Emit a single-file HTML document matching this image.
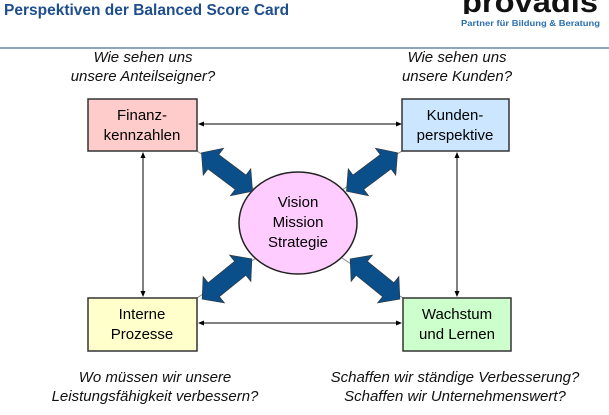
<!DOCTYPE html>
<html><head><meta charset="utf-8"><style>
body{margin:0;width:609px;height:410px;background:#fff;overflow:hidden;font-family:"Liberation Sans",sans-serif}
</style></head><body>
<svg width="609" height="410" viewBox="0 0 609 410" xmlns="http://www.w3.org/2000/svg" font-family="Liberation Sans, sans-serif">
<text x="4" y="15" font-size="15.5" font-weight="bold" fill="#1f4e8c">Perspektiven der Balanced Score Card</text>
<text x="462" y="12" font-size="30" font-weight="bold" fill="#111" textLength="136" lengthAdjust="spacingAndGlyphs">provadis</text>
<rect x="440" y="14" width="169" height="6" fill="#fff"/>
<text x="461" y="26" font-size="8.5" font-weight="bold" fill="#2a6fb0" textLength="139" lengthAdjust="spacingAndGlyphs">Partner für Bildung &amp; Beratung</text>
<line x1="0" y1="48" x2="609" y2="48" stroke="#6a86a8" stroke-width="1.5"/>
<g font-size="15" font-style="italic" fill="#111" text-anchor="middle">
<text x="143" y="62">Wie sehen uns</text><text x="143" y="81">unsere Anteilseigner?</text>
<text x="457" y="62">Wie sehen uns</text><text x="457" y="81">unsere Kunden?</text>
<text x="155" y="382">Wo müssen wir unsere</text><text x="155" y="401">Leistungsfähigkeit verbessern?</text>
<text x="455" y="382">Schaffen wir ständige Verbesserung?</text><text x="455" y="401">Schaffen wir Unternehmenswert?</text>
</g>
<defs><marker id="a" markerWidth="6" markerHeight="6" refX="5" refY="3" orient="auto-start-reverse"><path d="M0,0.5L6,3L0,5.5z" fill="#000"/></marker></defs>
<g stroke="#000" stroke-width="1" marker-start="url(#a)" marker-end="url(#a)">
<line x1="199" y1="124" x2="401" y2="124"/>
<line x1="199" y1="323" x2="401" y2="323"/>
<line x1="143" y1="153" x2="143" y2="296"/>
<line x1="457" y1="153" x2="457" y2="296"/>
</g>
<g stroke="#888" stroke-width="1">
<line x1="197" y1="151" x2="256" y2="190"/><line x1="402" y1="151" x2="342" y2="190"/>
<line x1="197" y1="298" x2="256" y2="258"/><line x1="403" y1="298" x2="342" y2="258"/>
</g>
<g fill="#000" font-size="15" text-anchor="middle">
<rect x="88" y="99" width="109" height="52" fill="#ffcccc" stroke="#333" stroke-width="1.5"/>
<text x="142" y="120">Finanz-</text><text x="142" y="140">kennzahlen</text>
<rect x="402" y="99" width="107" height="52" fill="#cce6ff" stroke="#333" stroke-width="1.5"/>
<text x="455" y="120">Kunden-</text><text x="455" y="140">perspektive</text>
<rect x="88" y="298" width="109" height="53" fill="#ffffcc" stroke="#333" stroke-width="1.5"/>
<text x="142" y="319">Interne</text><text x="142" y="339">Prozesse</text>
<rect x="403" y="298" width="108" height="53" fill="#ccffcc" stroke="#333" stroke-width="1.5"/>
<text x="457" y="319">Wachstum</text><text x="457" y="339">und Lernen</text>
<ellipse cx="298" cy="223" rx="59" ry="51" fill="#ffccff" stroke="#222" stroke-width="1.5"/>
<text x="298" y="207" font-size="15">Vision</text>
<text x="298" y="227" font-size="15">Mission</text>
<text x="298" y="247" font-size="15">Strategie</text>
</g>
<g fill="#0b4f8a" stroke="#333" stroke-width="0.6">
<polygon transform="translate(227,172) rotate(37)" points="-32,0 -17,-17 -17,-9 17,-9 17,-17 32,0 17,17 17,9 -17,9 -17,17"/>
<polygon transform="translate(372,172) rotate(-37)" points="-32,0 -17,-17 -17,-9 17,-9 17,-17 32,0 17,17 17,9 -17,9 -17,17"/>
<polygon transform="translate(227,279) rotate(-39)" points="-32,0 -17,-17 -17,-9 17,-9 17,-17 32,0 17,17 17,9 -17,9 -17,17"/>
<polygon transform="translate(375,279) rotate(39)" points="-32,0 -17,-17 -17,-9 17,-9 17,-17 32,0 17,17 17,9 -17,9 -17,17"/>
</g>
</svg>
</body></html>
